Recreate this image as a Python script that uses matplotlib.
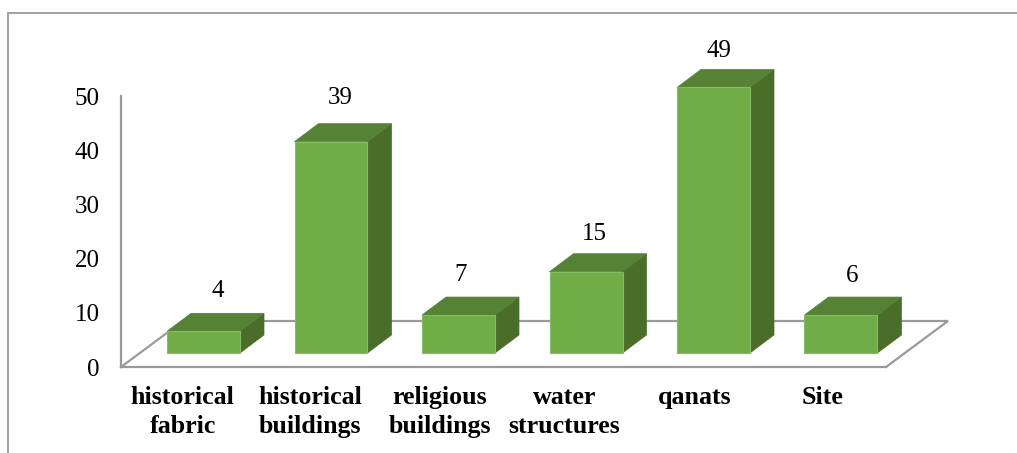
import matplotlib
matplotlib.use('Agg')
import matplotlib.pyplot as plt
from matplotlib.patches import Polygon
from matplotlib.lines import Line2D
from matplotlib.transforms import ScaledTranslation

categories = ['historical\nfabric', 'historical\nbuildings', 'religious\nbuildings',
              'water\nstructures', 'qanats', 'Site']
# heights as drawn, the last bar is drawn a bit taller than its printed label
bar_heights = [4, 39, 7, 15, 49, 7]
value_labels = ['4', '39', '7', '15', '49', '6']
y_ticks = [0, 10, 20, 30, 40, 50]

plt.rcParams['font.family'] = ['Liberation Serif', 'DejaVu Serif']

W, H = 1017, 453
fig = plt.figure(figsize=(W / 100, H / 100), dpi=100)
ax = fig.add_axes([121 / W, 1 - 367 / H, (886 - 121) / W, (367 - 96) / H])
ax.set_xlim(-0.5, 5.5)
ax.set_ylim(0, 50)
ax.patch.set_visible(False)

gray = '#9a9a9a'
for s in ['top', 'right']:
    ax.spines[s].set_visible(False)
for s in ['left', 'bottom']:
    ax.spines[s].set_color(gray)
    ax.spines[s].set_linewidth(1.6)

ax.set_yticks(y_ticks)
ax.tick_params(axis='y', length=0, pad=15.3, labelsize=18)
ax.set_xticks(range(len(categories)))
ax.set_xticklabels(categories, fontweight='bold', fontsize=18.7, linespacing=1.32)
ax.tick_params(axis='x', length=0, pad=14)

# small nudges so the category labels sit where the reference has them
tick_dx = [-2, -2, 0, -3, 0, 0]
for lab, d in zip(ax.get_xticklabels(), tick_dx):
    lab.set_transform(lab.get_transform() + ScaledTranslation(d / 100, 0, fig.dpi_scale_trans))

# pseudo 3d floor, in axis units
px_x = 6 / (886 - 121)
px_y = 50 / (367 - 96)
floor_dx = 62 * px_x
floor_dy = 46 * px_y
ax.plot([-0.5, -0.5 + floor_dx, 5.5 + floor_dx, 5.5],
        [0, floor_dy, floor_dy, 0],
        color=gray, lw=1.6, clip_on=False, zorder=1, solid_joinstyle='miter')

# bar geometry
base = 14 * px_y
shift = 18.75 * px_x
bw = 73 * px_x
dx = 24 * px_x
dy = 18 * px_y
label_dx = [14, 9, 2, 8, 5, 11]
label_dy = [22, 26, 22, 20, 18, 21]

front_c = '#70ad47'
top_c = '#558235'
side_c = '#4a6d2a'

for i, h in enumerate(bar_heights):
    x0 = i + shift - bw / 2
    x1 = x0 + bw
    y0 = base
    y1 = base + h
    ax.add_patch(Polygon([(x1, y0), (x1 + dx, y0 + dy), (x1 + dx, y1 + dy), (x1, y1)],
                         fc=side_c, ec=side_c, lw=0.5, clip_on=False, zorder=3))
    ax.add_patch(Polygon([(x0, y1), (x0 + dx, y1 + dy), (x1 + dx, y1 + dy), (x1, y1)],
                         fc=top_c, ec=top_c, lw=0.5, clip_on=False, zorder=3))
    ax.add_patch(Polygon([(x0, y0), (x1, y0), (x1, y1), (x0, y1)],
                         fc=front_c, ec='#86bb66', lw=0.8, clip_on=False, zorder=4))
    ax.annotate(value_labels[i], (i + shift + label_dx[i] * px_x, y1 + dy),
                xytext=(0, label_dy[i] * 0.72), textcoords='offset points',
                ha='center', va='center', fontsize=18, annotation_clip=False)

# picture frame, only top and left are visible
fig.add_artist(Line2D([7.5 / W, 7.5 / W, 1], [0, 1 - 13 / H, 1 - 13 / H],
                      color=gray, lw=1.3, solid_joinstyle='miter'))

fig.savefig('out.png', dpi=100)
